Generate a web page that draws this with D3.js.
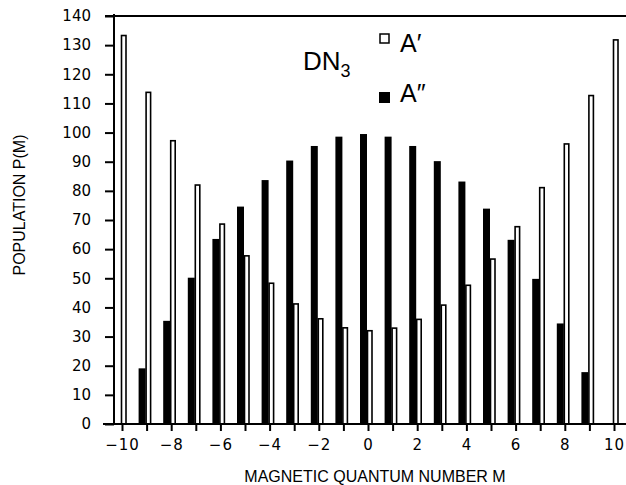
<!DOCTYPE html>
<html>
<head>
<meta charset="utf-8">
<script src="https://cdn.jsdelivr.net/npm/d3@7"></script>
<style>
  body { margin: 0; background: #fff; }
  svg { display: block; font-family: "Liberation Sans", Arial, sans-serif; }
  .axis text { fill: #000; font-family: "DejaVu Sans", sans-serif; }
  .axis line { stroke: #000; stroke-width: 2; }
</style>
</head>
<body>
<svg id="chart" width="626" height="485"></svg>
<script>
  // magnetic quantum number M
  const mValues = d3.range(-10, 11);
  // A' population (open bars)
  const aPrime = [133.3, 113.8, 97.2, 82.0, 68.6, 57.7, 48.3, 41.2, 36.1, 33.0, 32.0,
                  32.9, 35.9, 40.8, 47.6, 56.6, 67.7, 81.1, 96.1, 112.7, 131.8];
  // A'' population (filled bars)
  const aDouble = [0, 19.1, 35.4, 50.2, 63.5, 74.6, 83.7, 90.4, 95.4, 98.6, 99.5,
                   98.6, 95.4, 90.2, 83.2, 73.9, 63.2, 49.8, 34.5, 17.8, 0];
  const yTicks = d3.range(0, 141, 10);

  const svg = d3.select("#chart");

  const x = d3.scaleLinear().domain([-10, 10]).range([122, 614]);
  const y = d3.scaleLinear().domain([0, 140]).range([424, 16]);
  const axisX = 114;

  // bars
  const filled = mValues.map((m, i) => ({ m: m, v: aDouble[i] })).filter(d => d.v > 0);
  const open = mValues.map((m, i) => ({ m: m, v: aPrime[i] }));

  svg.append("g").selectAll("rect")
    .data(filled)
    .enter().append("rect")
      .attr("x", d => x(d.m) - 8)
      .attr("width", 7)
      .attr("y", d => y(d.v))
      .attr("height", d => y(0) - y(d.v))
      .attr("fill", "#000");

  svg.append("g").selectAll("rect")
    .data(open)
    .enter().append("rect")
      .attr("x", d => x(d.m) - 0.5)
      .attr("width", 4.5)
      .attr("y", d => y(d.v))
      .attr("height", d => y(0) - y(d.v))
      .attr("fill", "#fff")
      .attr("stroke", "#000")
      .attr("stroke-width", 1.6);

  // y axis
  const gy = svg.append("g")
    .attr("class", "axis")
    .attr("transform", `translate(${axisX},0)`)
    .call(d3.axisLeft(y).tickValues(yTicks).tickSize(9).tickPadding(14))
    .style("font-size", "15px");
  gy.select(".domain").remove();
  gy.append("line")
    .attr("x1", 0).attr("x2", 0)
    .attr("y1", y(140) - 2).attr("y2", y(0))
    .attr("stroke", "#000").attr("stroke-width", 2);

  // top frame line
  svg.append("line")
    .attr("x1", 105).attr("x2", 626)
    .attr("y1", y(140)).attr("y2", y(140))
    .attr("stroke", "#000").attr("stroke-width", 2);

  // x axis
  const gx = svg.append("g")
    .attr("class", "axis")
    .attr("transform", `translate(0,${y(0)})`)
    .call(d3.axisBottom(x)
      .tickValues(mValues)
      .tickSize(7)
      .tickPadding(8)
      .tickFormat(d => d % 2 === 0 ? (d < 0 ? "\u2212" + Math.abs(d) : String(d)) : ""))
    .style("font-size", "15px")
    .style("letter-spacing", "1px");
  gx.select(".domain").remove();
  gx.append("line")
    .attr("x1", 103).attr("x2", 626)
    .attr("y1", 0).attr("y2", 0)
    .attr("stroke", "#000").attr("stroke-width", 2);

  // axis titles
  svg.append("text")
    .attr("x", 375).attr("y", 482)
    .attr("text-anchor", "middle")
    .style("font-size", "16px")
    .text("MAGNETIC QUANTUM NUMBER M");

  svg.append("text")
    .attr("transform", "translate(25,205) rotate(-90)")
    .attr("text-anchor", "middle")
    .style("font-size", "16px")
    .text("POPULATION P(M)");

  // label + legend
  const lab = svg.append("text")
    .attr("x", 303).attr("y", 70)
    .style("font-size", "26px");
  lab.append("tspan").text("DN");
  lab.append("tspan").attr("dy", 7).style("font-size", "18px").text("3");

  svg.append("rect")
    .attr("x", 380).attr("y", 34).attr("width", 9).attr("height", 9)
    .attr("fill", "#fff").attr("stroke", "#000").attr("stroke-width", 1.5);
  svg.append("text")
    .attr("x", 400).attr("y", 52)
    .style("font-size", "25px")
    .text("A\u2032");

  svg.append("rect")
    .attr("x", 379).attr("y", 92).attr("width", 11).attr("height", 11)
    .attr("fill", "#000");
  svg.append("text")
    .attr("x", 400).attr("y", 102)
    .style("font-size", "25px")
    .text("A\u2033");
</script>
</body>
</html>
